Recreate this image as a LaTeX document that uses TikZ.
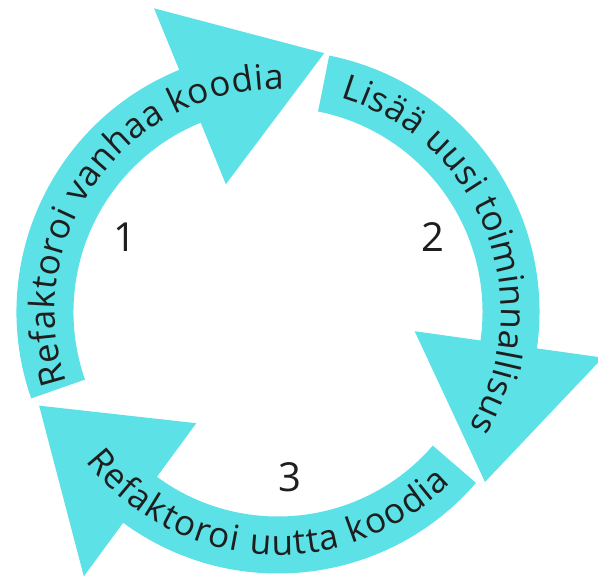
\documentclass[tikz,border=0pt]{standalone}
\usepackage{fontspec}
\setmainfont{Open Sans}
\usepackage{tikz}
\usetikzlibrary{calc,decorations.text}
\definecolor{ringcyan}{HTML}{5CE1E6}
\definecolor{inkgray}{HTML}{1E1E1E}

\begin{document}
\begin{tikzpicture}[
    x=1pt, y=1pt,
    ringarrow/.style={
        fill=ringcyan,
        draw=none
    },
    steplabel/.style={
        font=\fontsize{40}{48}\selectfont,
        text=inkgray,
        inner sep=0pt
    },
    arctext/.style={
        decorate,
        decoration={
            text along path,
            text align={fit to path},
            text={|\fontsize{35}{42}\selectfont\color{inkgray}|#1}
        }
    }
]

% picture frame
\useasboundingbox (-278,-264) rectangle (320,312);

% arrow 1 (left, up to the top)
\fill[ringarrow] (199.3:261.5) arc[start angle=199.3, end angle=112.2, radius=261.5]
    -- (112.2:328) -- ($(112.2:233)+(17.8:141)$) -- (112.2:138)
    -- (112.2:204.5) arc[start angle=112.2, end angle=199.3, radius=204.5] -- cycle;

% arrow 2 (top, down the right side)
\fill[ringarrow] (78.7:261.5) arc[start angle=78.7, end angle=-8, radius=261.5]
    -- (-8:328) -- ($(-8:233)+(-99.8:139.6)$) -- (-8:138)
    -- (-8:204.5) arc[start angle=-8, end angle=78.7, radius=204.5] -- cycle;

% arrow 3 (bottom, back to the left)
\fill[ringarrow] (-40.8:261.5) arc[start angle=-40.8, end angle=-126.3, radius=261.5]
    -- (-126.3:328) -- ($(-126.3:233)+(137:138)$) -- (-126.3:138)
    -- (-126.3:204.5) arc[start angle=-126.3, end angle=-40.8, radius=204.5] -- cycle;

% texts along the arrows
\path[arctext={Refaktoroi vanhaa koodia}]
    (198.5:223) arc[start angle=198.5, end angle=88.5, radius=223];
\path[arctext={Lisää uusi toiminnallisus}]
    (73.7:223) arc[start angle=73.7, end angle=-31, radius=223];
\path[arctext={Refaktoroi uutta koodia}]
    (217.8:243) arc[start angle=217.8, end angle=315.3, radius=243];

% step numbers
\node[steplabel] (step1) at (-153,75) {1};
\node[steplabel] (step2) at (155,75) {2};
\node[steplabel] (step3) at (12,-165) {3};

\end{tikzpicture}
\end{document}
